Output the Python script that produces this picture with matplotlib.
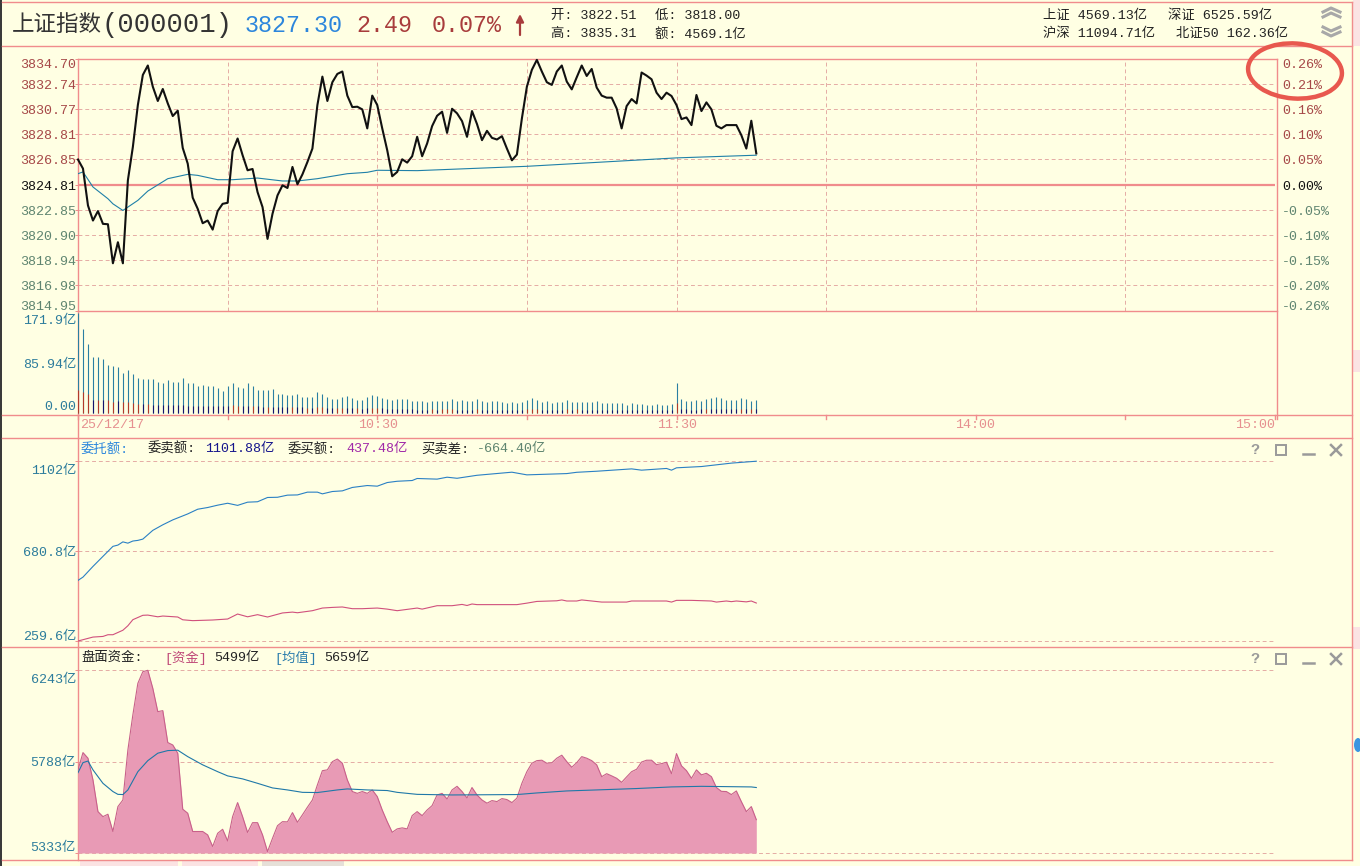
import numpy as np
import matplotlib
matplotlib.use('Agg')
import matplotlib.pyplot as plt
from matplotlib.patches import Ellipse, Rectangle

W, H = 1360, 866
FONT = ['Liberation Mono', 'Noto Sans CJK SC']
plt.rcParams['font.family'] = FONT

# --- data ---
price = [3826.82, 3826.11, 3823.22, 3822.04, 3822.78, 3821.78, 3821.75, 3818.69, 3820.34, 3818.69,
         3825.19, 3827.81, 3831.09, 3833.45, 3834.19, 3832.53, 3831.41, 3832.35, 3831.22, 3830.23,
         3830.65, 3827.73, 3826.50, 3823.83, 3822.96, 3821.83, 3822.04, 3821.33, 3822.78, 3823.35,
         3823.43, 3827.47, 3828.47, 3827.16, 3825.98, 3826.08, 3824.27, 3823.09, 3820.60, 3822.57,
         3824.01, 3824.80, 3824.59, 3826.24, 3824.88, 3825.66, 3826.63, 3827.68, 3831.09, 3833.32,
         3831.41, 3832.88, 3833.53, 3833.72, 3831.83, 3830.93, 3830.96, 3830.75, 3829.26, 3831.83,
         3831.09, 3829.26, 3827.55, 3825.51, 3825.85, 3826.84, 3826.58, 3827.08, 3828.60, 3827.08,
         3828.08, 3829.44, 3830.25, 3830.57, 3828.91, 3830.80, 3830.44, 3829.83, 3828.60, 3830.62,
         3829.60, 3828.34, 3829.07, 3828.52, 3828.39, 3828.65, 3827.68, 3826.76, 3827.21, 3830.04,
         3832.53, 3833.85, 3834.63, 3833.72, 3832.88, 3832.67, 3833.72, 3834.19, 3832.93, 3832.32,
         3833.27, 3834.19, 3833.37, 3833.92, 3832.46, 3831.83, 3831.67, 3831.67, 3830.83, 3829.26,
         3831.01, 3831.56, 3831.22, 3833.64, 3833.40, 3833.11, 3832.06, 3831.56, 3832.06, 3831.80,
         3831.09, 3829.99, 3830.12, 3829.52, 3831.88, 3830.62, 3831.30, 3830.75, 3829.47, 3829.26,
         3829.52, 3829.52, 3829.52, 3828.73, 3827.68, 3829.86, 3827.30]
avg_min = [0, 1, 3, 6, 7, 9, 12, 14, 18, 22, 24, 28, 31, 36, 41, 44, 48, 54, 58, 60, 68, 90, 120, 136]
avg_price = [3825.71, 3825.85, 3824.67, 3823.75, 3823.35, 3822.83, 3823.62, 3824.35, 3825.32, 3825.66,
             3825.58, 3825.24, 3825.24, 3825.37, 3825.14, 3825.14, 3825.32, 3825.71, 3825.82, 3825.98,
             3825.95, 3826.29, 3826.95, 3827.16]

volume = [171.9, 145, 118.6, 96.8, 96.8, 92.8, 83, 81.4, 79, 68.8, 74.5, 67.6, 60, 59, 58, 59, 53, 52, 57.3, 53.9,
          53.9, 60.7, 52, 51.6, 47.6, 48, 47, 47, 43.5, 38.4, 47, 52, 44.7, 44, 52, 47, 40, 40, 40, 41.8,
          33.8, 32.7, 31.5, 31.5, 33, 28.7, 28, 28, 36, 32.7, 27.5, 24.6, 24.6, 28, 30, 25.8, 23, 23, 27.5, 31.5,
          30, 25.8, 24, 23, 24, 24, 24, 21.8, 21, 20.6, 20, 20.6, 20.6, 20.6, 20.6, 25, 20.6, 22, 21, 20.6,
          25, 20.6, 19.5, 20.6, 20.6, 19.5, 18.3, 19.5, 17.8, 19, 22, 25.8, 22, 19.5, 20.6, 18.3, 19.5, 19.5, 22, 19.5,
          19.5, 19.5, 19.5, 19, 20.6, 17.8, 17.8, 17.8, 17.8, 17.8, 15, 17, 16, 16, 15, 15, 16, 15, 15, 16,
          52.7, 24, 20.6, 20.6, 22, 21, 24, 25.8, 28, 25.8, 22, 22, 23, 25.8, 24, 20.6, 22]
volume_low = [40, 36, 33, 23, 22, 22, 22, 20, 21, 19, 19, 17, 16, 16, 16, 15, 15, 14, 14, 14,
              14, 14, 13, 13, 13, 13, 13, 12, 12, 12, 13, 14, 12, 12, 12, 13, 12, 11, 11, 11,
              11, 10, 10, 11, 10, 10, 9, 9, 10, 10, 9, 9, 9, 9, 9, 9, 9, 8, 9, 9,
              9, 9, 8, 8, 7, 7, 7, 7, 6, 6, 6, 7, 6, 7, 7, 7, 6, 6, 6, 6,
              8, 6, 6, 6, 6, 6, 6, 6, 5, 6, 8, 8, 7, 6, 6, 6, 6, 6, 7, 6,
              7, 6, 6, 6, 6, 6, 6, 5, 5, 5, 5, 5, 5, 5, 5, 5, 5, 5, 5, 5,
              18, 7, 7, 6, 6, 7, 8, 8, 8, 7, 7, 7, 7, 8, 7, 7, 7]
volume_red = [0, 1, 2, 4, 6, 7, 9, 10, 11, 12, 14, 31, 32, 35, 38, 43, 46, 48, 49, 52, 53, 56, 59, 60,
              71, 73, 74, 75, 80, 90, 91, 92, 98, 100, 120, 126, 133, 135]

sell_min = [0, 1, 3, 5, 7, 8, 9, 10, 11, 12, 13, 15, 17, 19, 22, 24, 26, 28, 30, 32, 34, 36, 38, 40, 42, 44, 46,
            48, 49, 51, 53, 55, 58, 60, 62, 64, 67, 68, 72, 74, 76, 80, 87, 90, 98, 100, 104, 111, 113, 118,
            119, 120, 125, 131, 136]
sell_amt = [543.5, 559, 609, 656, 703, 709, 724, 718, 728, 731, 737, 778, 804, 827, 855, 877, 885, 896, 905, 895,
            910, 912, 932, 933, 943, 944, 957, 957, 949, 960, 963, 979, 988, 985, 1002, 1008, 1011.5, 1021, 1018,
            1027, 1022, 1036, 1050.5, 1038, 1044, 1050, 1055, 1066, 1060, 1068, 1060, 1071, 1077, 1093, 1101.9]
buy_min = [0, 3, 5, 6, 7, 9, 10, 11, 13, 14, 16, 17, 20, 21, 23, 27, 30, 32, 34, 36, 38, 41, 43, 44, 47, 49, 51,
           53, 55, 57, 60, 62, 64, 68, 69, 72, 75, 77, 78, 79, 80, 88, 90, 92, 96, 97, 98, 100, 101, 105, 110,
           111, 118, 119, 120, 123, 127, 128, 130, 131, 132, 134, 135, 136]
buy_amt = [259.6, 278, 281, 289, 289, 310, 331, 359.5, 380, 381, 373, 376.6, 372, 359, 355, 358, 362.6, 386, 373,
           383, 372, 391, 395, 392, 401.6, 414, 417, 419, 411, 411, 414, 409, 401.6, 414, 409, 425, 425, 431, 426,
           433, 430, 430, 437, 445, 448, 452, 447, 447, 452, 442, 442, 447, 447, 442, 450, 450, 447, 442, 447,
           444, 447, 443, 447, 437.5]

fund = [5747, 5833, 5805, 5697, 5539, 5514, 5526, 5440, 5564, 5597, 5846, 6021, 6178, 6236, 6243, 6153, 6037, 6042,
        5883, 5871, 5830, 5551, 5531, 5440, 5440, 5440, 5423, 5365, 5431, 5451, 5393, 5514, 5584, 5514, 5435, 5484,
        5484, 5423, 5340, 5406, 5469, 5489, 5488, 5534, 5486, 5523, 5561, 5597, 5672, 5743, 5747, 5788, 5801, 5780,
        5697, 5639, 5630, 5639, 5630, 5647, 5614, 5547, 5489, 5436, 5453, 5458, 5453, 5519, 5539, 5519, 5547, 5569,
        5622, 5630, 5602, 5647, 5665, 5639, 5607, 5659, 5622, 5597, 5581, 5594, 5589, 5604, 5599, 5584, 5606, 5680,
        5738, 5780, 5793, 5795, 5780, 5782, 5805, 5820, 5788, 5760, 5783, 5813, 5805, 5793, 5772, 5713, 5728, 5717,
        5705, 5685, 5712, 5738, 5750, 5786, 5795, 5795, 5773, 5778, 5785, 5728, 5828, 5767, 5743, 5705, 5747, 5722,
        5730, 5713, 5659, 5640, 5639, 5624, 5642, 5589, 5539, 5564, 5499]
fund_avg_min = [0, 1, 2, 3, 5, 7, 8, 9, 10, 12, 14, 16, 18, 20, 22, 25, 28, 30, 33, 36, 39, 42, 45, 48, 52, 54, 58,
                62, 64, 68, 75, 88, 92, 98, 104, 112, 119, 125, 135, 136]
fund_avg = [5733, 5783, 5791, 5747, 5680, 5639, 5625, 5624, 5647, 5738, 5793, 5830, 5843, 5845, 5813, 5772, 5738,
            5717, 5702, 5680, 5657, 5647, 5635, 5634, 5647, 5652, 5647, 5644, 5635, 5625, 5622, 5624, 5632, 5642,
            5647, 5654, 5662, 5665, 5662, 5659]

price_ticks = [3834.70, 3832.74, 3830.77, 3828.81, 3826.85, 3824.81, 3822.85, 3820.90, 3818.94, 3816.98, 3814.95]
pct_labels = ['0.26%', '0.21%', '0.16%', '0.10%', '0.05%', '0.00%', '-0.05%', '-0.10%', '-0.15%', '-0.20%', '-0.26%']
time_ticks = [30, 60, 90, 120, 150, 180, 210, 240]
vol_ticks = [171.9, 85.94, 0.0]
vol_labels = ['171.9亿', '85.94亿', '0.00']
order_ticks = [1102, 680.8, 259.6]
fund_ticks = [6243, 5788, 5333]

# --- colours ---
BG = '#FFFFE3'
LINE = '#F08C8C'
GRID = '#DC9090'
AXBLUE = '#2C7C9C'
UPRED = '#A64848'
DOWNGREEN = '#5F8570'

fig = plt.figure(figsize=(W / 100, H / 100), dpi=100, facecolor=BG)
bg = fig.add_axes([0, 0, 1, 1])
bg.set_xlim(0, W)
bg.set_ylim(H, 0)
bg.axis('off')


def panel(top, bottom, ylim):
    ax = fig.add_axes([78 / W, 1 - bottom / H, 1197 / W, (bottom - top) / H])
    ax.patch.set_alpha(0)
    ax.set_xlim(0, 240)
    ax.set_ylim(*ylim)
    for s in ax.spines.values():
        s.set_visible(False)
    ax.set_xticks([])
    ax.tick_params(axis='y', length=2, width=0.7, color=LINE, labelleft=False)
    return ax


def hgrid(ax, vals):
    for v in vals:
        ax.axhline(v, color=GRID, lw=0.7, dashes=(4, 3), alpha=0.75, zorder=1)


def ylabel(ax, val, label, color, dy=0, right=False):
    x, ox, ha = (1, 7, 'left') if right else (0, -2, 'right')
    ax.annotate(label, xy=(x, val), xycoords=('axes fraction', 'data'), xytext=(ox, dy - 1.5),
                textcoords='offset pixels', ha=ha, va='center', fontsize=9.6, color=color, family=FONT)


def txt(x, y, s, color='#222222', size=9.6, ha='left', weight='normal'):
    bg.text(x, y, s, color=color, fontsize=size, ha=ha, va='center', family=FONT, fontweight=weight)


def win_icons(y):
    c = '#9A9A9A'
    txt(1255, y, '?', c, 11, 'center', 'bold')
    bg.add_patch(Rectangle((1276, y - 5), 10, 10, fill=False, ec=c, lw=1.4))
    bg.plot([1303, 1314], [y + 4, y + 4], color=c, lw=1.8)
    bg.plot([1331, 1341], [y - 5, y + 5], color=c, lw=1.8)
    bg.plot([1331, 1341], [y + 5, y - 5], color=c, lw=1.8)


# window chrome
bg.add_patch(Rectangle((1353, 0), 7, 46, color='#FBE3E3', lw=0))
bg.add_patch(Rectangle((1353, 350), 7, 22, color='#FBE3E3', lw=0))
bg.add_patch(Rectangle((1353, 627), 7, 22, color='#FBE3E3', lw=0))
bg.add_patch(Rectangle((0, 0), 2, H, color='#3A3A3A', lw=0))
for y in [2, 46, 415, 438, 647, 860]:
    bg.plot([2, 1352], [y, y], color=LINE, lw=1)
bg.plot([78, 1277], [59, 59], color=LINE, lw=1)
bg.plot([78, 1277], [311, 311], color=LINE, lw=1)
bg.plot([78, 78], [59, 860], color=LINE, lw=1)
bg.plot([1277, 1277], [59, 419], color=LINE, lw=1)
bg.plot([1352, 1352], [2, 860], color=LINE, lw=1)
bg.add_patch(Rectangle((80, 861), 98, 5, color='#FBE3E3', lw=0))
bg.add_patch(Rectangle((182, 861), 76, 5, color='#FBE3E3', lw=0))
bg.add_patch(Rectangle((262, 861), 82, 5, color='#E6E0D8', lw=0))

# header
txt(12, 25, '上证指数', '#333333', 16.2)
txt(102, 25, '(000001)', '#333333', 19.6)
txt(245, 25, '3827.30', '#2C86DC', 16.8)
txt(356, 25, '2.49', '#A83C3C', 16.8)
txt(432, 25, '0.07%', '#A83C3C', 16.8)
bg.annotate('', xy=(520, 14), xytext=(520, 35),
            arrowprops=dict(arrowstyle='-|>', color='#A83C3C', lw=1.6, mutation_scale=11, shrinkA=0, shrinkB=0))
txt(551, 16, '开: 3822.51')
txt(655, 16, '低: 3818.00')
txt(551, 34, '高: 3835.31')
txt(655, 34, '额: 4569.1亿')
txt(1043, 16, '上证 4569.13亿')
txt(1168, 16, '深证 6525.59亿')
txt(1043, 34, '沪深 11094.71亿')
txt(1176, 34, '北证50 162.36亿')
for y0 in [8, 13, 27, 32]:
    up = y0 < 20
    dy = 4 if up else -4
    base = y0 + 4 if up else y0
    bg.plot([1323, 1331, 1340], [base, base - dy, base], color='#A8A8A8', lw=2.2)

# price panel
ax1 = panel(59, 311, (price_ticks[-1], price_ticks[0]))
ax1.set_yticks(price_ticks)
hgrid(ax1, price_ticks[1:5] + price_ticks[6:10])
for t in time_ticks[:-1]:
    ax1.axvline(t, color=GRID, lw=0.7, dashes=(4, 3), alpha=0.75, zorder=1)
ax1.axhline(price_ticks[5], color=LINE, lw=1.6, zorder=2)
ax1.plot(avg_min, avg_price, color='#1F80A8', lw=0.8, zorder=3)
ax1.plot(np.arange(len(price)), price, color='#111111', lw=1.5, zorder=4, clip_on=False)
for i, (v, p) in enumerate(zip(price_ticks, pct_labels)):
    c = UPRED if i < 5 else ('#111111' if i == 5 else DOWNGREEN)
    dy = -5 if i == 0 else (6 if i == 10 else 0)
    ylabel(ax1, v, '%.2f' % v, c, dy)
    ylabel(ax1, v, p, '#111111' if i == 5 else c, dy, right=True)

# volume panel
ax2 = panel(311, 415, (-2.9, 175.3))
ax2.set_yticks([])
mins = np.arange(len(volume))
ax2.vlines(mins, 0, volume, color='#2A7FA2', lw=0.8, zorder=2)
low_colors = ['#B23A2A' if i in volume_red else '#14146E' for i in mins]
ax2.vlines(mins, 0, volume_low, colors=low_colors, lw=0.8, zorder=3)
for v, lab, dy in zip(vol_ticks, vol_labels, [-6, 0, 8]):
    ylabel(ax2, v, lab, AXBLUE, dy)

# time strip
for t in [0] + time_ticks:
    x = ax2.transData.transform((t, 0))[0]
    bg.plot([x, x], [415, 419], color=LINE, lw=1)
txt(80, 425, '25/12/17', '#E69090')
txt(378, 425, '10:30', '#E69090', ha='center')
txt(677, 425, '11:30', '#E69090', ha='center')
txt(975, 425, '14:00', '#E69090', ha='center')
txt(1255, 425, '15:00', '#E69090', ha='center')

# order amount panel
ax3 = panel(439, 647, (231.5, 1206))
ax3.set_yticks(order_ticks)
hgrid(ax3, order_ticks)
ax3.plot(sell_min, sell_amt, color='#2A80C4', lw=0.8, zorder=3)
ax3.plot(buy_min, buy_amt, color='#D0507C', lw=0.8, zorder=3)
for v, lab, dy in zip(order_ticks, ['1102亿', '680.8亿', '259.6亿'], [-8, 0, 6]):
    ylabel(ax3, v, lab, AXBLUE, dy)
txt(81, 449, '委托额:', '#2A86DC')
txt(148, 449, '委卖额:')
txt(205, 449, '1101.88亿', '#15158C')
txt(288, 449, '委买额:')
txt(346, 449, '437.48亿', '#A028A8')
txt(421, 449, '买卖差:')
txt(477, 449, '-664.40亿', '#5F8570')
win_icons(450)

# fund panel
ax4 = panel(647, 860, (5298, 6359))
ax4.set_yticks(fund_ticks)
hgrid(ax4, fund_ticks)
fund_x = np.arange(len(fund))
ax4.fill_between(fund_x, fund_ticks[-1], fund, color='#E89AB5', lw=0, zorder=2)
ax4.plot(fund_x, fund, color='#C8608A', lw=0.8, zorder=3)
ax4.plot(fund_avg_min, fund_avg, color='#1F78A8', lw=0.8, zorder=4)
for v, lab, dy in zip(fund_ticks, ['6243亿', '5788亿', '5333亿'], [-8, 0, 7]):
    ylabel(ax4, v, lab, AXBLUE, dy)
txt(81, 658, '盘面资金:')
txt(164, 658, '[资金]', '#C04878')
txt(214, 658, '5499亿')
txt(274, 658, '[均值]', '#2A7CAC')
txt(324, 658, '5659亿')
win_icons(659)

# red hand-drawn circle
over = fig.add_axes([0, 0, 1, 1], zorder=10)
over.set_xlim(0, W)
over.set_ylim(H, 0)
over.axis('off')
over.add_patch(Ellipse((1295, 71), 94, 55, angle=4, fill=False, ec='#E8584E', lw=3.2))
over.add_patch(Ellipse((1358, 745), 8, 14, color='#3C96E0', lw=0))

fig.savefig('out.png', dpi=100, facecolor=BG)
